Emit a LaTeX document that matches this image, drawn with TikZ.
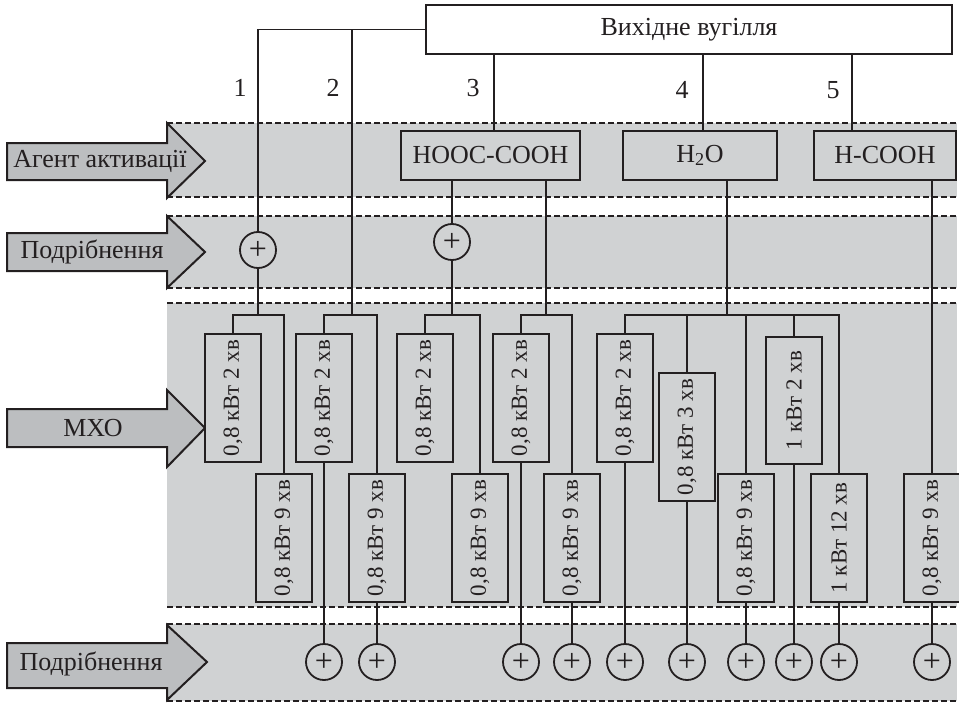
\documentclass[tikz,border=0pt]{standalone}
\usepackage{fontspec}
\setmainfont{Liberation Serif}
\definecolor{ink}{RGB}{35,31,32}
\definecolor{bandgray}{RGB}{208,210,211}
\definecolor{arrowgray}{RGB}{188,190,192}
\begin{document}
\begin{tikzpicture}[x=1pt,y=-1pt,line width=1.8pt,color=ink,
    font=\fontsize{26}{30}\selectfont,
    frame/.style={draw,line width=2.2pt,inner sep=0pt},
    topbox/.style={frame,fill=white,minimum width=526pt,minimum height=49pt},
    agentbox/.style={frame,fill=bandgray,minimum height=49pt},
    vbox/.style={frame,fill=bandgray,rotate=90,minimum width=128pt,minimum height=56pt,
      font=\fontsize{23}{27}\selectfont},
    sumc/.style={draw,circle,fill=bandgray,minimum size=36pt,inner sep=0pt,
      font=\fontsize{32}{32}\selectfont},
    bandline/.style={dash pattern=on 5.5pt off 3.5pt,line width=2pt},
    bigarrow/.style={fill=arrowgray,line width=2pt,line join=miter}]
    \useasboundingbox (0,0) rectangle (959,704);
    % bands
    \fill[bandgray] (167,123) rectangle (957,197);
    \fill[bandgray] (167,216) rectangle (957,288);
    \fill[bandgray] (167,303) rectangle (957,607);
    \fill[bandgray] (167,624) rectangle (957,701);
    \draw[bandline] (167,123) -- (957,123) (167,197) -- (957,197);
    \draw[bandline] (167,216) -- (957,216) (167,288) -- (957,288);
    \draw[bandline] (167,303) -- (957,303) (167,607) -- (957,607);
    \draw[bandline] (167,624) -- (957,624) (167,701) -- (957,701);
    % stage arrows
    \filldraw[bigarrow] (7,143) -- (167,143) -- (167,123) -- (205,161) -- (167,198) -- (167,180) -- (7,180) -- cycle;
    \filldraw[bigarrow] (7,233) -- (167,233) -- (167,216) -- (205,252) -- (167,288) -- (167,271) -- (7,271) -- cycle;
    \filldraw[bigarrow] (7,409) -- (167,409) -- (167,390) -- (205,428) -- (167,467) -- (167,447) -- (7,447) -- cycle;
    \filldraw[bigarrow] (7,643) -- (167,643) -- (167,625) -- (207,662) -- (167,700) -- (167,688) -- (7,688) -- cycle;
    \path (100,161) node (agent) {Агент активації}
    (92,252) node (grind1) {Подрібнення}
    (93,428) node (mxo) {МХО}
    (91,664) node (grind2) {Подрібнення};
    % nodes
    \path (689,29.5) node (coal) [topbox] {Вихідне вугілля}
    (490.5,155.5) node (hooc) [agentbox,minimum width=179pt] {HOOC-COOH}
    (700,155.5) node (water) [agentbox,minimum width=154pt] {H\textsubscript{2}O}
    (885,155.5) node (formic) [agentbox,minimum width=142pt] {H-COOH}
    (258,250) node (c1) [sumc] {+}
    (452,242) node (c2) [sumc] {+};
    \path (240,88) node (n1) {1}
    (333,88) node (n2) {2}
    (473,88) node (n3) {3}
    (682,90) node (n4) {4}
    (833,90) node (n5) {5};
    \path (233,398) node (a1) [vbox] {0,8 кВт 2 хв}
    (284,538) node (b1) [vbox] {0,8 кВт 9 хв}
    (324,398) node (a2) [vbox] {0,8 кВт 2 хв}
    (377,538) node (b2) [vbox] {0,8 кВт 9 хв}
    (425,398) node (a3) [vbox] {0,8 кВт 2 хв}
    (480,538) node (b3) [vbox] {0,8 кВт 9 хв}
    (521,398) node (a4) [vbox] {0,8 кВт 2 хв}
    (572,538) node (b4) [vbox] {0,8 кВт 9 хв}
    (625,398) node (a5) [vbox] {0,8 кВт 2 хв}
    (687,437) node (c5) [vbox] {0,8 кВт 3 хв}
    (746,538) node (b5) [vbox] {0,8 кВт 9 хв}
    (794,400.5) node (d5) [vbox,minimum width=127pt] {1 кВт 2 хв}
    (839,538) node (e5) [vbox] {1 кВт 12 хв}
    (932,538) node (f6) [vbox] {0,8 кВт 9 хв};
    \path (324,662) node (s1) [sumc] {+}
    (377,662) node (s2) [sumc] {+}
    (521,662) node (s3) [sumc] {+}
    (572,662) node (s4) [sumc] {+}
    (625,662) node (s5) [sumc] {+}
    (687,662) node (s6) [sumc] {+}
    (746,662) node (s7) [sumc] {+}
    (794,662) node (s8) [sumc] {+}
    (839,662) node (s9) [sumc] {+}
    (932,662) node (s10) [sumc] {+};
    \coordinate (j1) at (258,315);
    \coordinate (j2) at (352,315);
    \coordinate (j3) at (452,315);
    \coordinate (j4) at (546,315);
    \coordinate (j5) at (727,315);
    \coordinate (l3) at (494,90);
    \coordinate (l4) at (703,90);
    \coordinate (l5) at (852,90);
    % routes from the coal
    \draw (coal) -| (c1);
    \draw (j2 |- coal.west) -- (j2);
    \draw (l3 |- coal.south) -- (l3 |- hooc.north);
    \draw (l4 |- coal.south) -- (l4 |- water.north);
    \draw (l5 |- coal.south) -- (l5 |- formic.north);
    \draw (c2 |- hooc.south) -- (c2);
    \draw (j4 |- hooc.south) -- (j4);
    \draw (j5 |- water.south) -- (j5);
    \draw (f6 |- formic.south) -- (f6);
    \draw (c1) -- (j1);
    \draw (c2) -- (j3);
    % branches
    \draw (j1) -| (a1);
    \draw (j1) -| (b1);
    \draw (j2) -| (a2);
    \draw (j2) -| (b2);
    \draw (j3) -| (a3);
    \draw (j3) -| (b3);
    \draw (j4) -| (a4);
    \draw (j4) -| (b4);
    \draw (j5) -| (a5);
    \draw (j5) -| (c5);
    \draw (j5) -| (b5);
    \draw (j5) -| (d5);
    \draw (j5) -| (e5);
    % to the last grinding
    \draw (a2) -- (s1);
    \draw (b2) -- (s2);
    \draw (a4) -- (s3);
    \draw (b4) -- (s4);
    \draw (a5) -- (s5);
    \draw (c5) -- (s6);
    \draw (b5) -- (s7);
    \draw (d5) -- (s8);
    \draw (e5) -- (s9);
    \draw (f6) -- (s10);
\end{tikzpicture}
\end{document}
